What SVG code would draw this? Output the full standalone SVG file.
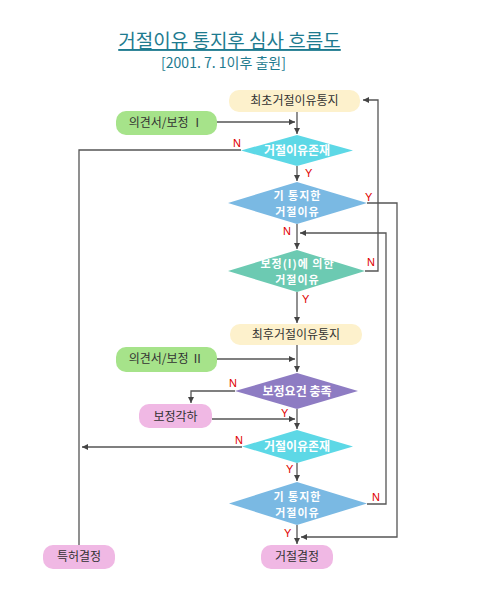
<svg xmlns="http://www.w3.org/2000/svg" width="483" height="607" viewBox="0 0 483 607">
<style>
.t{font-family:"Noto Sans CJK KR","Noto Sans",sans-serif;font-size:12px;fill:#333;text-anchor:middle}
.d{font-family:"Noto Sans CJK KR","Noto Sans",sans-serif;font-size:12px;fill:#fff;font-weight:bold;text-anchor:middle}
.d2{font-family:"Noto Sans CJK KR","Noto Sans",sans-serif;font-size:11px;letter-spacing:1px;fill:#fff;font-weight:bold;text-anchor:middle}
.yn{font-family:"Liberation Sans",Arial,sans-serif;font-size:11px;fill:#e00000}
.ln{fill:none;stroke:#555;stroke-width:1.3}
</style>
<defs>
<marker id="ar" markerUnits="userSpaceOnUse" markerWidth="7" markerHeight="7" refX="6" refY="3" orient="auto">
<path d="M0,0 L6,3 L0,6 z" fill="#444"/>
</marker>
</defs>
<rect width="483" height="607" fill="#fff"/>
<g id="title">
<text x="229.5" y="48" font-family="Noto Sans CJK KR,sans-serif" font-size="19" fill="#1e7b8f" text-anchor="middle" text-decoration="underline">거절이유 통지후 심사 흐름도</text>
<text x="223.5" y="68" font-family="Noto Sans CJK KR,sans-serif" font-size="14" fill="#1e7b8f" text-anchor="middle">[2001. 7. 1이후 출원]</text>
</g>
<g id="connectors">
<path class="ln" d="M297,112 V134" marker-end="url(#ar)"/>
<path class="ln" d="M217,122 H295" marker-end="url(#ar)"/>
<path class="ln" d="M241,150 H79 V545"/>
<path class="ln" d="M297,166 V181" marker-end="url(#ar)"/>
<path class="ln" d="M367,203 H397 V537 H301" marker-end="url(#ar)"/>
<path class="ln" d="M297,224 V249" marker-end="url(#ar)"/>
<path class="ln" d="M367,504 H386 V233 H300" marker-end="url(#ar)"/>
<path class="ln" d="M365,271 H378 V100 H363" marker-end="url(#ar)"/>
<path class="ln" d="M297,292 V323" marker-end="url(#ar)"/>
<path class="ln" d="M297,345 V372" marker-end="url(#ar)"/>
<path class="ln" d="M217,359 H295" marker-end="url(#ar)"/>
<path class="ln" d="M235,391 H191 V403" marker-end="url(#ar)"/>
<path class="ln" d="M212,419 H295" marker-end="url(#ar)"/>
<path class="ln" d="M297,409 V429" marker-end="url(#ar)"/>
<path class="ln" d="M242,447 H82" marker-end="url(#ar)"/>
<path class="ln" d="M297,463 V481" marker-end="url(#ar)"/>
<path class="ln" d="M297,525 V544" marker-end="url(#ar)"/>
</g>
<g id="labels">
<text class="yn" x="233" y="147">N</text>
<text class="yn" x="305" y="177">Y</text>
<text class="yn" x="365" y="201">Y</text>
<text class="yn" x="283" y="235">N</text>
<text class="yn" x="367" y="266">N</text>
<text class="yn" x="302" y="303">Y</text>
<text class="yn" x="229" y="387">N</text>
<text class="yn" x="281" y="417">Y</text>
<text class="yn" x="235" y="444">N</text>
<text class="yn" x="286" y="473">Y</text>
<text class="yn" x="372" y="501">N</text>
<text class="yn" x="284" y="537">Y</text>
</g>
<g id="n-first-notice">
<rect x="229" y="90" width="131" height="22" rx="10" fill="#fdf1cc"/>
<text class="t" x="294.5" y="105">최초거절이유통지</text>
</g>
<g id="n-opinion1">
<rect x="116" y="111" width="101" height="24" rx="10" fill="#a6e38a"/>
<text class="t" x="166" y="127">의견서/보정 Ⅰ</text>
</g>
<g id="n-reason-exists1">
<polygon points="297,135 353,150.5 297,166 241,150.5" fill="#5dd8e6"/>
<text class="d" x="297" y="154.5">거절이유존재</text>
</g>
<g id="n-notified1">
<polygon points="297,182 367,203 297,224 228,203" fill="#7ab9e3"/>
<text class="d2" x="297.5" y="200"><tspan x="297.5">기 통지한</tspan><tspan x="297.5" dy="16">거절이유</tspan></text>
</g>
<g id="n-by-amend">
<polygon points="297,250 365,271 297,292 228,271" fill="#6ccab2"/>
<text class="d2" x="297.5" y="268"><tspan x="297.5">보정(I)에 의한</tspan><tspan x="297.5" dy="16">거절이유</tspan></text>
</g>
<g id="n-final-notice">
<rect x="230" y="324" width="132" height="21" rx="10" fill="#fdf1cc"/>
<text class="t" x="296" y="339">최후거절이유통지</text>
</g>
<g id="n-opinion2">
<rect x="116" y="347" width="101" height="25" rx="10" fill="#a6e38a"/>
<text class="t" x="166" y="363">의견서/보정 Ⅱ</text>
</g>
<g id="n-amend-ok">
<polygon points="297,373 358,391 297,409 235,391" fill="#8e7cc3"/>
<text class="d" x="297" y="396">보정요건 충족</text>
</g>
<g id="n-reject-amend">
<rect x="139" y="404" width="73" height="24" rx="10" fill="#f0b8e4"/>
<text class="t" x="175.5" y="421">보정각하</text>
</g>
<g id="n-reason-exists2">
<polygon points="297,430 353,446.5 297,463 242,446.5" fill="#5dd8e6"/>
<text class="d" x="297" y="451">거절이유존재</text>
</g>
<g id="n-notified2">
<polygon points="297,482 367,503.5 297,525 229,503.5" fill="#7ab9e3"/>
<text class="d2" x="297.5" y="500.5"><tspan x="297.5">기 통지한</tspan><tspan x="297.5" dy="16">거절이유</tspan></text>
</g>
<g id="n-patent">
<rect x="43" y="545" width="72" height="24" rx="10" fill="#f0b8e4"/>
<text class="t" x="79" y="561">특허결정</text>
</g>
<g id="n-reject">
<rect x="261" y="545" width="72" height="24" rx="10" fill="#f0b8e4"/>
<text class="t" x="297" y="561">거절결정</text>
</g>
</svg>
